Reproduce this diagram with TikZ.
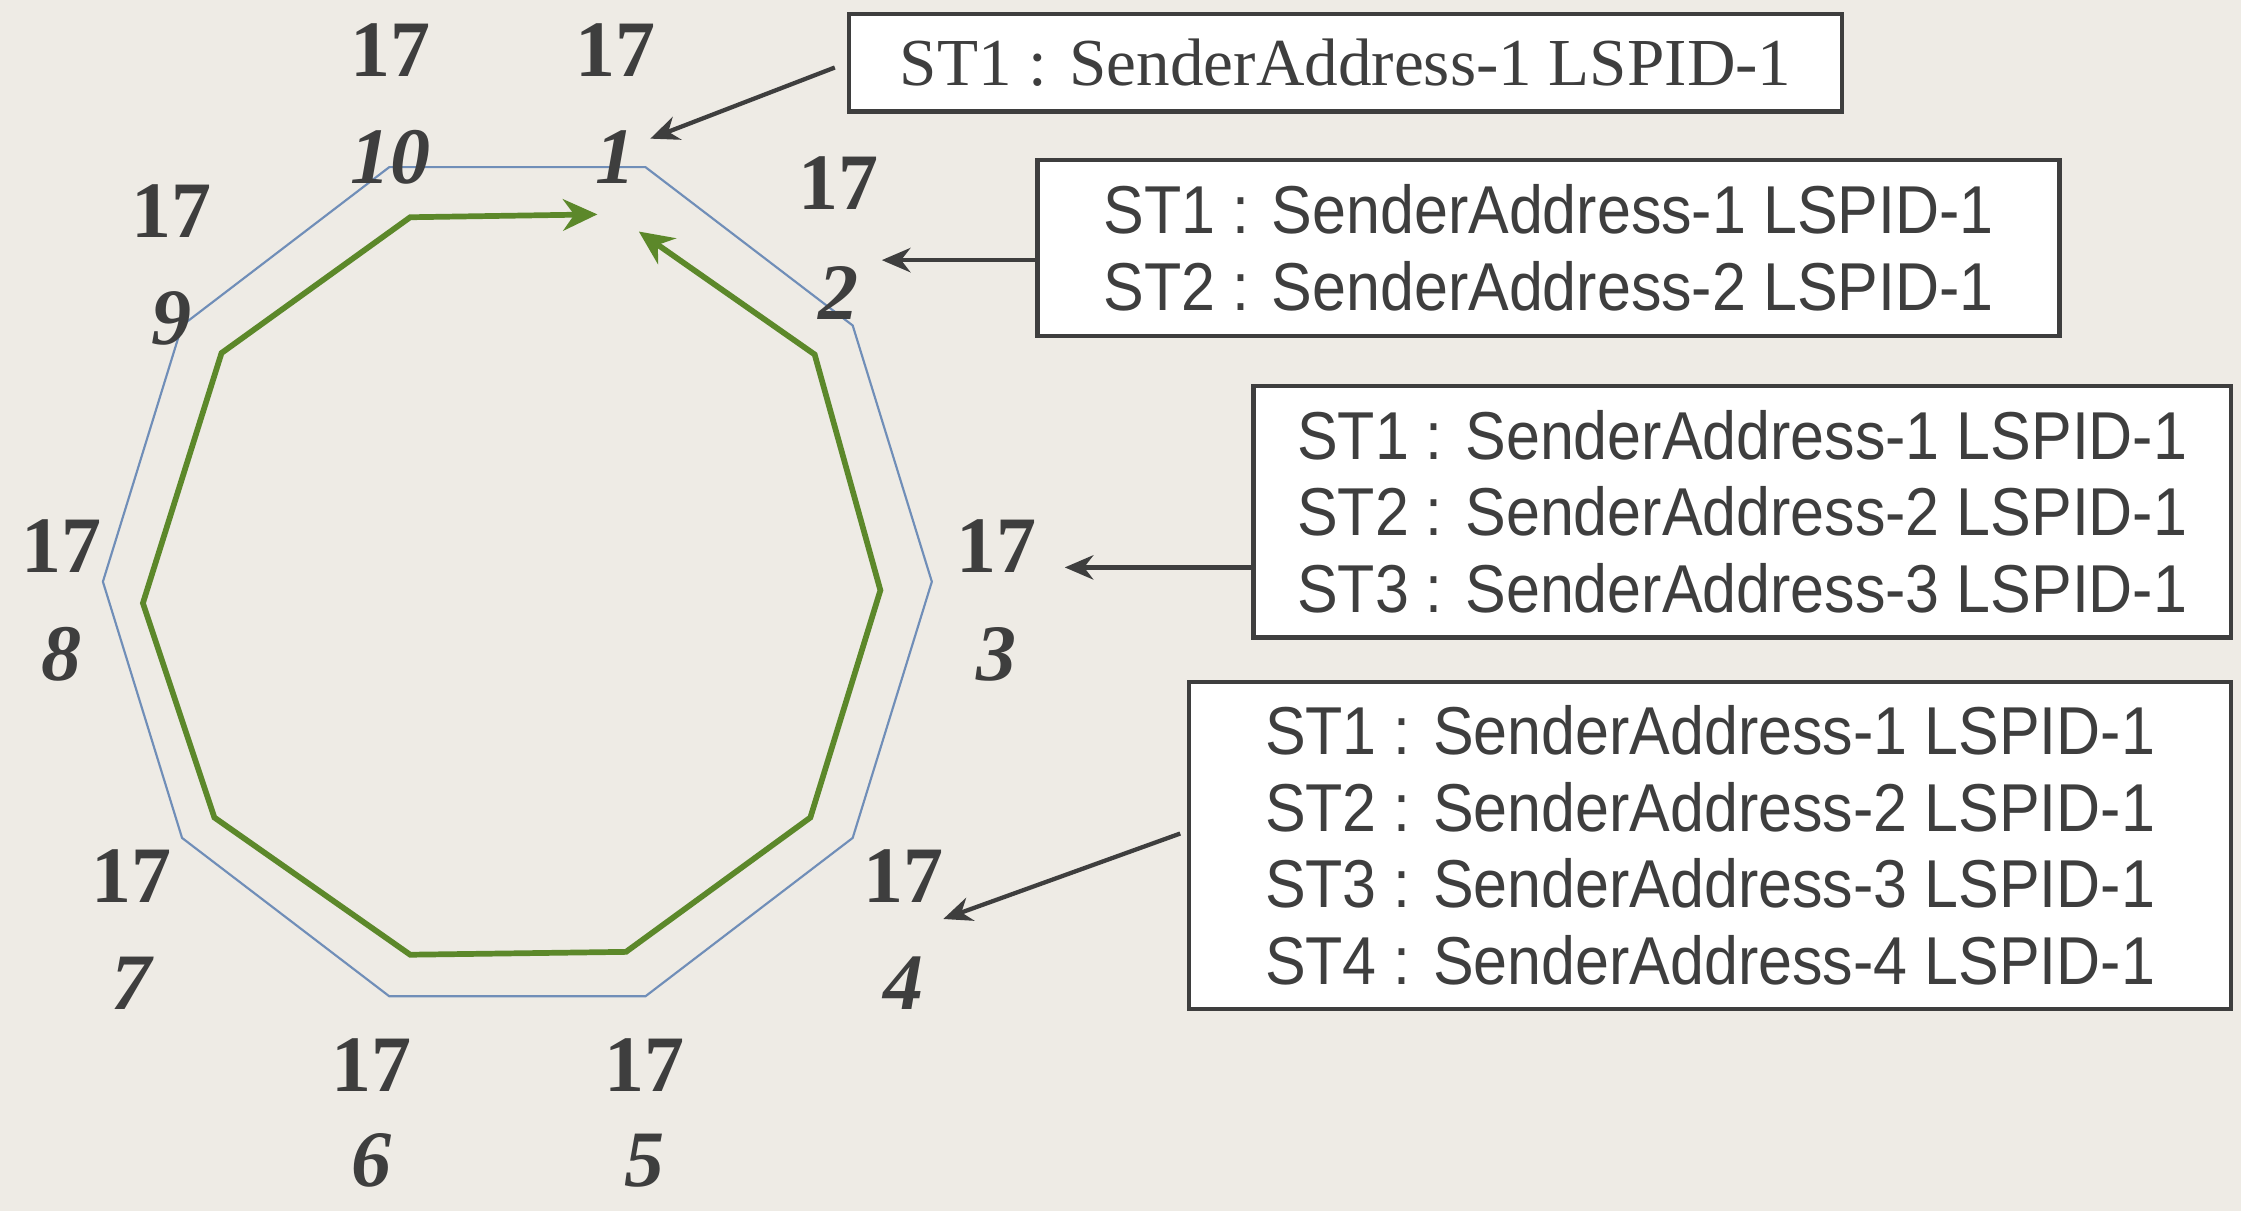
\documentclass[tikz,border=0pt]{standalone}
\usepackage{fontspec}
\setmainfont{Liberation Serif}
\newfontfamily\stfont[FakeStretch=0.9]{Liberation Sans}
\usetikzlibrary{arrows.meta}

\definecolor{paper}{RGB}{238,235,229}
\definecolor{ink}{RGB}{62,62,62}
\definecolor{ringblue}{RGB}{112,142,184}
\definecolor{pathgreen}{RGB}{92,136,42}

\tikzset{
  hop/.style={font=\fontsize{28}{28}\selectfont\bfseries, text=ink, inner sep=0pt},
  idx/.style={font=\fontsize{28}{28}\selectfont\bfseries\itshape, text=ink, inner sep=0pt},
  ring/.style={draw=ringblue, line width=0.75pt},
  flow/.style={draw=pathgreen, line width=2pt,
    {Stealth[length=12pt,width=11pt]}-{Stealth[length=12pt,width=11pt]}},
  stbox/.style={draw=ink, line width=1.5pt, fill=white, text=ink, inner sep=0pt, align=center},
  sansline/.style={font=\stfont\fontsize{23.7}{26.8}\selectfont},
  pointer/.style={draw=ink, line width=1.5pt, -{Stealth[length=10pt,width=8.5pt]}},
}

\begin{document}
\begin{tikzpicture}[x=0.5pt,y=-0.5pt]
  % 背景
  \fill[paper] (0,0) rectangle (1568,847);
  \useasboundingbox (0,0) rectangle (1568,847);

  % 绘制外圈十边形
  \draw[ring, shift={(362,407)}] (0:290 and 305)
    \foreach \a in {36,72,...,324} { -- (\a:290 and 305) } -- cycle;

  % 绘制绿色路径
  \draw[flow] (418,150) -- (287,152) -- (155,247) -- (100,422) -- (150,572)
    -- (287,668) -- (438,666) -- (567,572) -- (616,413) -- (570,248) -- (447,162);

  % 各节点的编号
  \foreach \i/\x/\y/\d in {1/431/35/75, 2/587/128/77, 3/697/382/76, 4/632/613/75, 5/451/745/67,
                           6/260/745/67, 7/92/613/75, 8/43/382/76, 9/120/148/75, 10/273/35/75} {
    \node[hop] (h\i) at (\x,\y) {17};
    \node[idx] (n\i) at (\x,\y+\d) {\i};
  }

  % 右侧的表框
  \node[stbox, minimum width=347.5pt, minimum height=34pt,
        font=\fontsize{23.5}{26}\selectfont] (b1) at (941.5,44)
    {ST1 : SenderAddress-1 LSPID-1};
  \node[stbox, sansline, minimum width=357.5pt, minimum height=61.5pt] (b2) at (1083.5,173.5)
    {ST1 : SenderAddress-1 LSPID-1\\ST2 : SenderAddress-2 LSPID-1};
  \node[stbox, sansline, minimum width=342pt, minimum height=88pt] (b3) at (1219,358)
    {ST1 : SenderAddress-1 LSPID-1\\ST2 : SenderAddress-2 LSPID-1\\ST3 : SenderAddress-3 LSPID-1};
  \node[stbox, sansline, minimum width=364.5pt, minimum height=114.5pt] (b4) at (1196.5,591.5)
    {ST1 : SenderAddress-1 LSPID-1\\ST2 : SenderAddress-2 LSPID-1\\ST3 : SenderAddress-3 LSPID-1\\ST4 : SenderAddress-4 LSPID-1};

  % 指向节点的箭头
  \coordinate (t1) at (455,97);
  \coordinate (t2) at (617,182);
  \coordinate (t3) at (745,397);
  \coordinate (t4) at (660,643);
  \draw[pointer, shorten <=4.5pt] (b1.west) -- (t1);
  \draw[pointer] (b2.west |- t2) -- (t2);
  \draw[pointer] (b3.west |- t3) -- (t3);
  \draw[pointer, shorten <=2.5pt] ([yshift=5pt]b4.west) -- (t4);
\end{tikzpicture}
\end{document}
